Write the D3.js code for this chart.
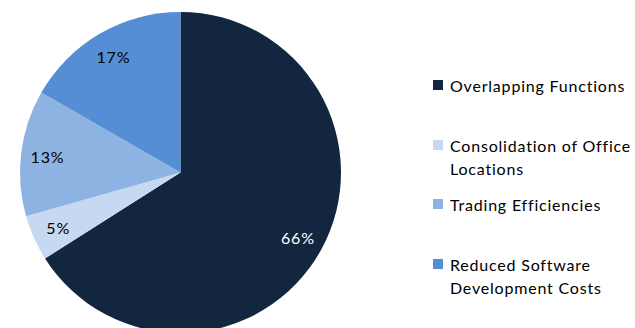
<!DOCTYPE html>
<html>
<head>
<meta charset="utf-8">
<script src="https://cdn.jsdelivr.net/npm/d3@7"></script>
<style>
  body { margin: 0; background: #fff; }
  text { font-family: Lato, "Open Sans", sans-serif; letter-spacing: 0.8px; }
</style>
</head>
<body>
<script>
var w = 635;
var h = 328;

// slices, clockwise from 12 o'clock
var categories = ["Overlapping Functions", "Consolidation of Office Locations", "Trading Efficiencies", "Reduced Software Development Costs"];
var values = [66.0, 4.6, 12.7, 16.7];
var colors = ["#13263f", "#c6d9f0", "#8db3e2", "#558ed5"];
var labelColors = ["#ffffff", "#000000", "#000000", "#000000"];
var legendLines = [["Overlapping Functions"], ["Consolidation of Office", "Locations"], ["Trading Efficiencies"], ["Reduced Software", "Development Costs"]];
var legendY = [85, 145, 204, 264];

var cx = 180.5, cy = 172.5, r = 160.5;

var svg = d3.select("body")
			.append("svg")
			.attr("width", w)
			.attr("height", h);

var pie = d3.pie().sort(null).value(function(d) { return d; });
var arcs = pie(values);

var arc = d3.arc().innerRadius(0).outerRadius(r);
var labelArc = d3.arc().innerRadius(134).outerRadius(134);

var g = svg.append("g").attr("transform", "translate(" + cx + "," + cy + ")");

g.selectAll("path")
	.data(arcs)
	.enter()
	.append("path")
	.attr("d", arc)
	.attr("fill", function(d, i) { return colors[i]; });

g.selectAll("text")
	.data(arcs)
	.enter()
	.append("text")
	.attr("transform", function(d) { return "translate(" + labelArc.centroid(d) + ")"; })
	.attr("text-anchor", "middle")
	.attr("dominant-baseline", "central")
	.attr("font-size", 16)
	.attr("fill", function(d, i) { return labelColors[i]; })
	.text(function(d) { return Math.round(d.data) + "%"; });

// legend
var legend = svg.selectAll(".legend")
	.data(categories)
	.enter()
	.append("g")
	.attr("class", "legend")
	.attr("transform", function(d, i) { return "translate(433," + legendY[i] + ")"; });

legend.append("rect")
	.attr("x", 0)
	.attr("y", -5)
	.attr("width", 10)
	.attr("height", 10)
	.attr("fill", function(d, i) { return colors[i]; });

legend.each(function(d, i) {
	var t = d3.select(this).append("text")
		.attr("x", 17)
		.attr("font-size", 16)
		.attr("fill", "#000");
	legendLines[i].forEach(function(line, j) {
		t.append("tspan")
			.attr("x", 17)
			.attr("y", j * 23)
			.attr("dominant-baseline", "central")
			.text(line);
	});
});
</script>
</body>
</html>
